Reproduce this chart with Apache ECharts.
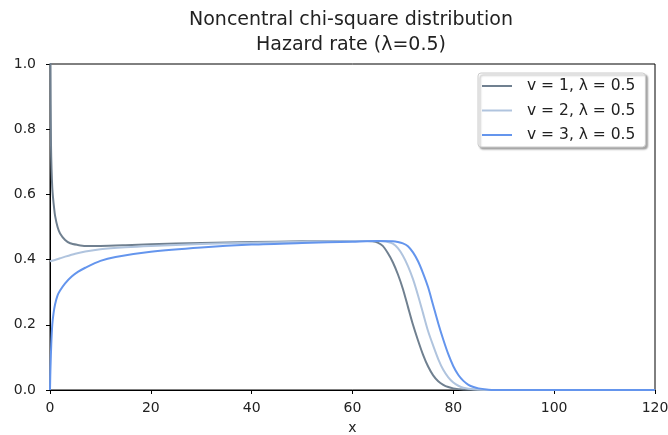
<!DOCTYPE html>
<html>
<head>
<meta charset="utf-8">
<title>Noncentral chi-square hazard rate</title>
<script src="https://cdn.jsdelivr.net/npm/echarts@6/dist/echarts.min.js"></script>
<style>
  html, body { margin: 0; padding: 0; background: #fff; }
  #chart { width: 668px; height: 435px; }
</style>
</head>
<body>
<div id="chart"></div>
<script>
// values
var seriesNames = ['v = 1, λ = 0.5', 'v = 2, λ = 0.5', 'v = 3, λ = 0.5'];
var xTicks = [0, 20, 40, 60, 80, 100, 120];
var yTicks = [0.0, 0.2, 0.4, 0.6, 0.8, 1.0];

// v = 1
var x1 = [0.03, 0.1, 0.2, 0.3, 0.45, 0.6, 0.8, 1, 1.5, 2, 3, 4, 5.5, 7, 10, 15, 20, 30, 40, 50, 60, 63, 64, 65, 66, 67, 68, 69, 70, 71, 72, 73, 74, 75, 76, 77, 78, 79, 80, 82, 85, 120];
var y1 = [1.6, 1.0, 0.75, 0.68, 0.62, 0.59, 0.56, 0.535, 0.5, 0.48, 0.46, 0.45, 0.445, 0.442, 0.442, 0.444, 0.447, 0.451, 0.454, 0.456, 0.457, 0.457, 0.456, 0.452, 0.442, 0.42, 0.392, 0.355, 0.31, 0.255, 0.2, 0.152, 0.108, 0.072, 0.045, 0.027, 0.016, 0.009, 0.005, 0.0015, 0, 0];

// v = 2
var x2 = [0, 1, 2, 3, 5, 7, 10, 15, 20, 30, 40, 50, 60, 65, 66, 67, 68, 69, 70, 71, 72, 73, 74, 75, 76, 77, 78, 79, 80, 81, 82, 84, 87, 120];
var y2 = [0.395, 0.399, 0.404, 0.409, 0.418, 0.425, 0.432, 0.438, 0.442, 0.448, 0.452, 0.455, 0.457, 0.457, 0.456, 0.454, 0.449, 0.435, 0.412, 0.38, 0.34, 0.29, 0.235, 0.18, 0.136, 0.095, 0.062, 0.039, 0.023, 0.013, 0.007, 0.002, 0, 0];

// v = 3
var x3 = [0, 0.05, 0.1, 0.25, 0.45, 0.7, 1, 1.5, 2, 3, 4.3, 5.6, 7, 10, 13, 20, 30, 40, 50, 60, 65, 68, 69, 70, 71, 72, 73, 74, 75, 76, 77, 78, 79, 80, 81, 82, 83, 84, 85, 87, 90, 120];
var y3 = [0, 0.04, 0.07, 0.14, 0.2, 0.235, 0.262, 0.29, 0.305, 0.327, 0.348, 0.363, 0.375, 0.396, 0.408, 0.424, 0.437, 0.446, 0.451, 0.455, 0.457, 0.456, 0.454, 0.45, 0.441, 0.422, 0.395, 0.358, 0.315, 0.26, 0.205, 0.155, 0.11, 0.073, 0.046, 0.028, 0.016, 0.009, 0.005, 0.001, 0, 0];

var colors = ['#708090', '#b0c4de', '#6495ed'];
var FONT = 'DejaVu Sans';

function pairs(xs, ys) {
  return xs.map(function (x, i) { return [x, ys[i]]; });
}

var chart = echarts.init(document.getElementById('chart'), null, { renderer: 'canvas' });

var lines = [pairs(x1, y1), pairs(x2, y2), pairs(x3, y3)].map(function (d, i) {
  return {
    name: seriesNames[i],
    type: 'line',
    data: d,
    symbol: 'none',
    smooth: 0.25,
    clip: true,
    lineStyle: { color: colors[i], width: 2 },
    itemStyle: { color: colors[i] },
    z: 2 + i
  };
});

var option = {
  animation: false,
  textStyle: { fontFamily: FONT },
  title: {
    text: 'Noncentral chi-square distribution\nHazard rate (λ=0.5)',
    left: 346,
    textAlign: 'center',
    top: 3,
    textStyle: { fontFamily: FONT, fontSize: 19, fontWeight: 'normal', color: '#222', lineHeight: 25 }
  },
  legend: {
    data: seriesNames,
    orient: 'vertical',
    left: 478,
    top: 73,
    padding: [5, 10, 4, 4],
    icon: 'rect',
    itemWidth: 30,
    itemHeight: 2,
    itemGap: 8.5,
    backgroundColor: '#fff',
    borderColor: '#ccc',
    borderWidth: 1,
    borderRadius: 3,
    shadowColor: 'rgba(0,0,0,0.35)',
    shadowBlur: 2,
    shadowOffsetX: 2,
    shadowOffsetY: 2,
    textStyle: { fontFamily: FONT, fontSize: 15.5, color: '#222', padding: [0, 0, 0, 10] }
  },
  grid: {
    left: 50, right: 13, top: 64, bottom: 45,
    outerBoundsMode: 'none',
    containLabel: false,
    show: true, borderColor: '#000', borderWidth: 1, backgroundColor: 'transparent'
  },
  xAxis: {
    type: 'value',
    min: 0, max: 120, interval: 20,
    name: 'x',
    nameLocation: 'middle',
    nameGap: 31,
    nameTextStyle: { fontFamily: FONT, fontSize: 14, color: '#222' },
    axisLine: { show: true, lineStyle: { color: '#000', width: 1 } },
    axisTick: { show: true, inside: false, length: 4, lineStyle: { color: '#000' } },
    axisLabel: { fontFamily: FONT, fontSize: 14, color: '#222', margin: 11,
      formatter: function (v) { return xTicks.indexOf(v) >= 0 ? String(v) : ''; } },
    splitLine: { show: false }
  },
  yAxis: {
    type: 'value',
    min: 0, max: 1, interval: 0.2,
    axisLine: { show: true, lineStyle: { color: '#000', width: 1 } },
    axisTick: { show: true, inside: false, length: 4, lineStyle: { color: '#000' } },
    axisLabel: { fontFamily: FONT, fontSize: 14, color: '#222', margin: 14,
      formatter: function (v) {
        var t = yTicks.filter(function (k) { return Math.abs(k - v) < 1e-9; });
        return t.length ? t[0].toFixed(1) : '';
      } },
    splitLine: { show: false }
  },
  series: lines
};

chart.setOption(option);
</script>
</body>
</html>
